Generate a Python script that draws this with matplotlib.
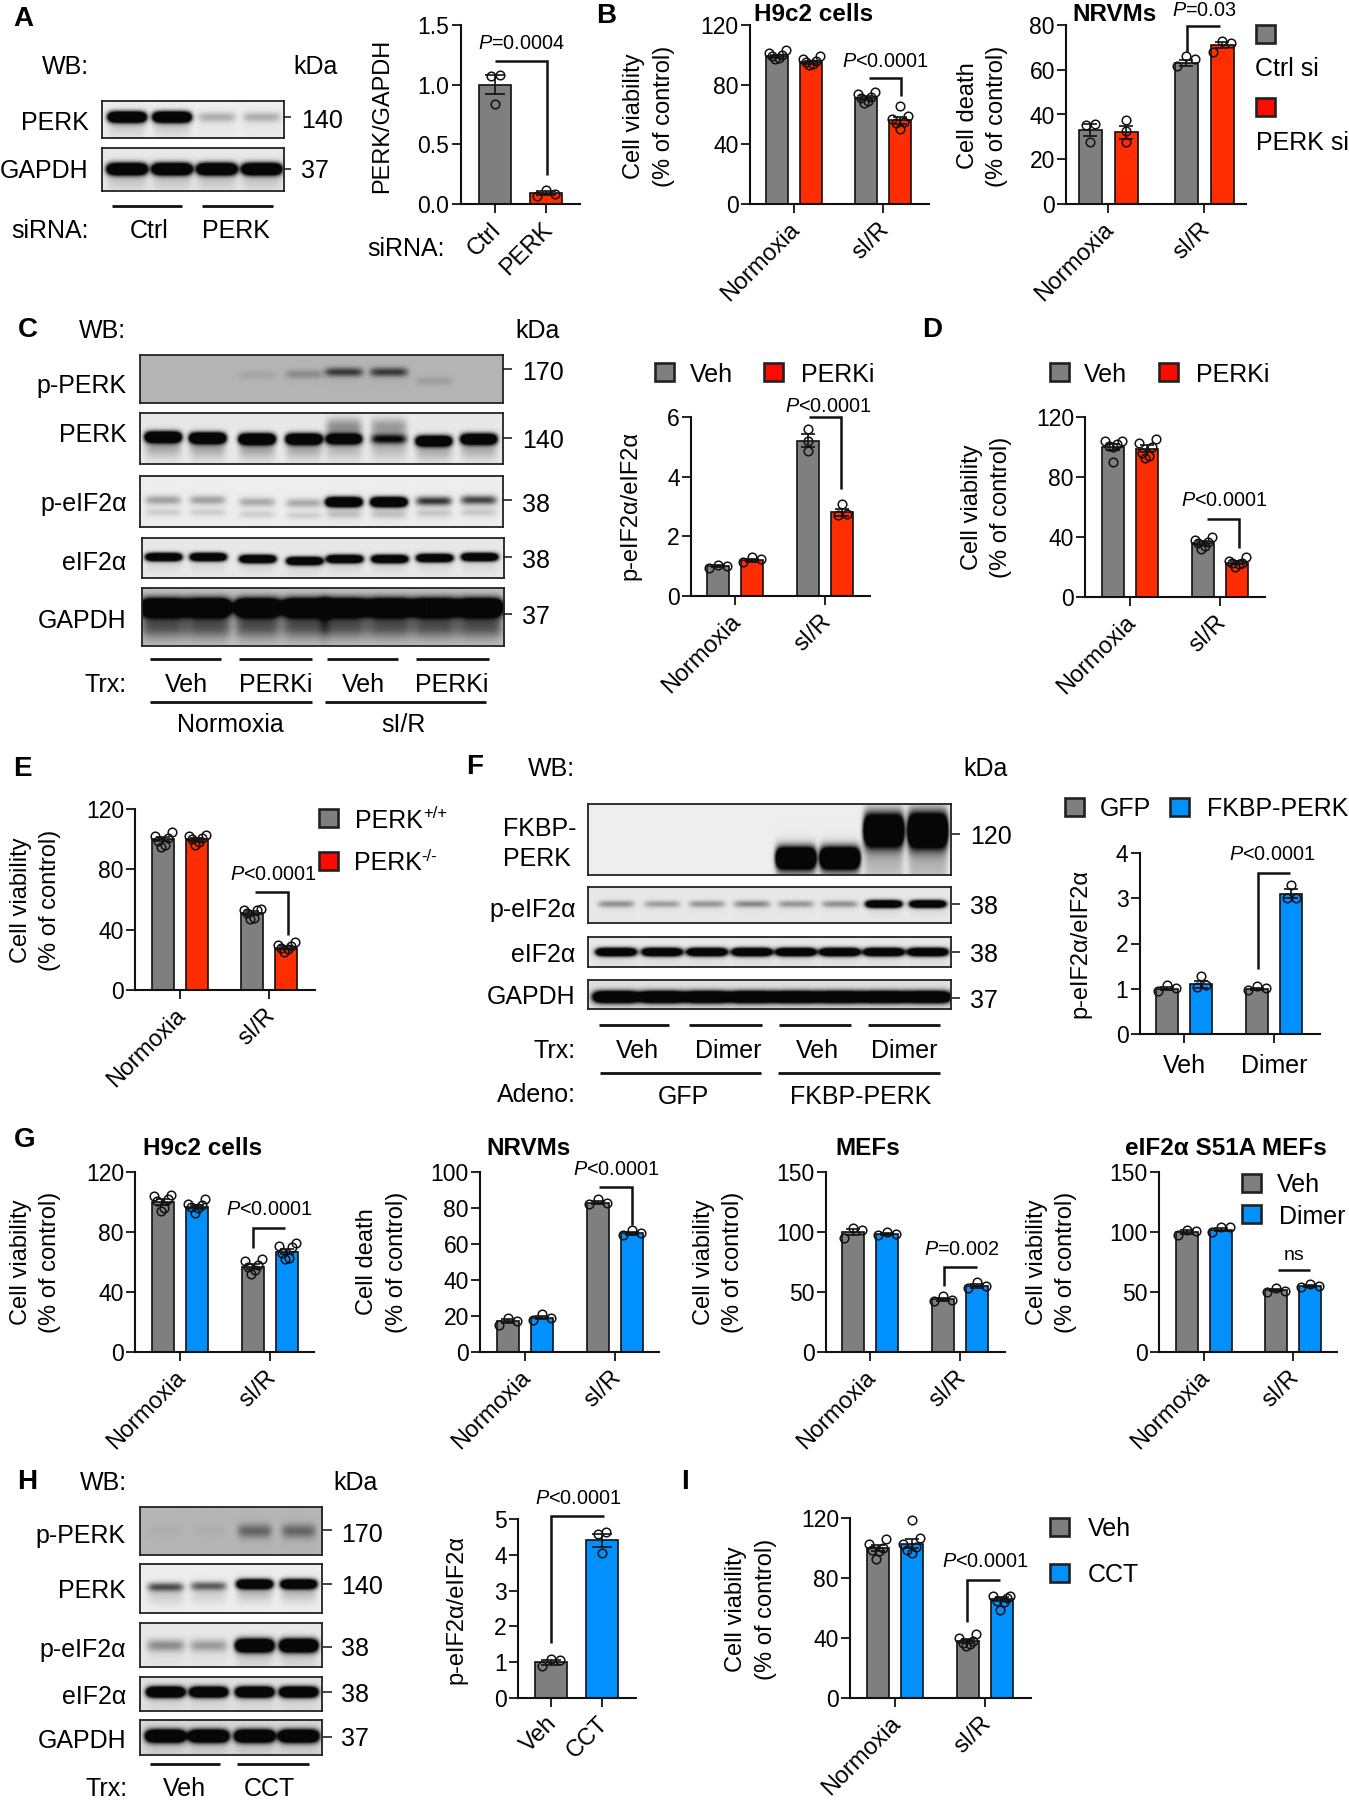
import numpy as np
import matplotlib
matplotlib.use("Agg")
import matplotlib.pyplot as plt
from matplotlib.patches import Rectangle
from matplotlib.transforms import ScaledTranslation

plt.rcParams.update({
    "font.family": ["Liberation Sans", "DejaVu Sans"],
    "mathtext.fontset": "custom",
    "mathtext.rm": "Liberation Sans",
    "mathtext.it": "Liberation Sans:italic",
    "mathtext.bf": "Liberation Sans:bold",
    "mathtext.default": "regular",
})

# ---------------- data ----------------
COND = ["Normoxia", "sI/R"]

a_labels = ["Ctrl", "PERK"]
a_means = [1.0, 0.09]
a_points = [[1.08, 1.07, 0.835], [0.07, 0.12, 0.08]]

b1_means = [99, 95, 71, 56]
b1_points = [[97, 98, 99, 100, 101, 103], [93, 94, 95, 96, 97, 99],
             [68, 69, 71, 72, 74, 75], [50, 54, 55, 57, 59, 66]]
b2_means = [33, 32, 63, 71]
b2_points = [[27.7, 35.7, 35.4], [27.6, 32.7, 37.5],
             [61.6, 64.7, 66], [68, 72, 72.7]]

c_means = [1.0, 1.2, 5.2, 2.8]
c_points = [[0.95, 1.02, 1.05], [1.15, 1.25, 1.3],
            [4.85, 5.2, 5.6], [2.7, 2.75, 3.1]]
d_means = [100, 99, 36, 23]
d_points = [[90, 100, 101, 102, 104, 104], [93, 94, 96, 100, 103, 105.5],
            [32, 34, 36, 37, 38, 40], [20, 22, 23, 23, 24, 27]]
e_means = [100, 100, 51, 28]
e_points = [[95, 96, 99, 101, 102, 105], [96, 98, 100, 101, 102, 103],
            [47, 48, 51, 53, 53, 54], [25, 27, 28, 29, 30, 32]]
f_labels = ["Veh", "Dimer"]
f_means = [1.0, 1.1, 1.0, 3.1]
f_points = [[0.95, 1.02, 1.08], [1.03, 1.08, 1.28],
            [0.98, 1.02, 1.05], [3.0, 3.0, 3.3]]
g1_means = [100, 97, 57, 67]
g1_points = [[94, 96, 101, 102, 104, 105], [93, 96, 97, 98, 99, 102],
             [52, 55, 57, 58, 61, 62], [62, 63, 66, 70, 71, 73]]
g2_means = [17, 19, 83, 66]
g2_points = [[15, 17, 19], [18, 19, 21], [82, 83, 85], [65, 66, 68]]
g3_means = [100, 98, 44, 55]
g3_points = [[94.7, 101.7, 103.6], [97.5, 98, 100.3],
             [42.5, 43.3, 46.7], [53, 55, 58]]
g4_means = [100, 102, 52, 55]
g4_points = [[97.5, 101, 102], [100, 104.4, 104.4], [50, 51, 53], [54, 55, 57]]
h_labels = ["Veh", "CCT"]
h_means = [1.0, 4.4]
h_points = [[0.88, 1.05, 1.09], [4.04, 4.57, 4.65]]
i_means = [100, 103, 38, 66]
i_points = [[93, 98, 99, 100, 103, 106], [97, 99, 101, 103, 107, 118.5],
            [35, 36, 37, 38, 40, 43], [59, 64, 65, 67, 68, 68]]

# western blot lane intensities (0 = no band, 1 = saturated)
a_blot = {"PERK": [1, 1, .2, .2], "GAPDH": [1, 1, 1, 1]}
c_blot = {"p-PERK": [0, 0, .07, .18, .55, .55, .1, 0],
          "PERK": [1, 1, 1, .95, .75, .7, .85, .9],
          "PERK_upper": [0, 0, 0, 0, .4, .35, 0, 0],
          "p-eIF2a": [.25, .25, .22, .22, 1, 1, .6, .55],
          "eIF2a": [.9, .9, .9, .9, .9, .9, .9, .9],
          "GAPDH": [1, 1, 1, 1, 1, 1, 1, 1]}
f_blot = {"FKBP": [0, 0, 0, 0, 1, 1, 1, 1],
          "p-eIF2a": [.3, .25, .28, .33, .28, .3, .9, .9],
          "eIF2a": [.95, .95, .95, .95, .95, .95, .95, .95],
          "GAPDH": [1, 1, 1, 1, 1, 1, 1, 1]}
h_blot = {"p-PERK": [.03, .03, .35, .35],
          "PERK": [.5, .45, .85, .85],
          "p-eIF2a": [.3, .25, 1, 1],
          "eIF2a": [1, .95, 1, 1],
          "GAPDH": [1, 1, 1, 1]}

GRAY, RED, BLUE, SW_RED = "#7f7f7f", "#ff2d00", "#0091ff", "#ff0a00"

# ---------------- helpers ----------------
W, H = 1349, 1800
fig = plt.figure(figsize=(W / 100, H / 100), dpi=100, facecolor="white")
ov = fig.add_axes([0, 0, 1, 1], zorder=20)
ov.set_xlim(0, W)
ov.set_ylim(H, 0)
ov.axis("off")
ov.patch.set_alpha(0)

LAB = 18
TICK = 16.5
YLAB = 17
XROT = 17


def T(x, y, s, ha="center", size=LAB, rotation=0, **kw):
    if rotation == 90:
        x += 3
    else:
        y += 2.5
    ov.text(x, y, s, ha=ha, va="center", fontsize=size, color="black", rotation=rotation, **kw)


def L(xs, ys, lw=1.5):
    ov.plot(xs, ys, color="#111111", lw=lw, solid_capstyle="butt",
            solid_joinstyle="miter", clip_on=False)


def ylab2(x1, x2, y, l1="Cell viability", l2="(% of control)"):
    T(x1, y, l1, rotation=90, size=YLAB)
    T(x2, y, l2, rotation=90, size=YLAB)


def P(x, y, s):
    T(x, y, r"$\mathit{P}$" + s, size=14.3)


def swatch(cx, cy, color):
    ov.add_patch(Rectangle((cx - 9.5, cy - 9), 19, 18, fc=color, ec="#222222", lw=1.9))


def title(x, y, s):
    T(x, y - 1, s, size=17.5, fontweight="bold")


def letter(x, y, s):
    ov.text(x, y + 2, s, ha="left", va="center", fontsize=20, fontweight="bold", color="black")


def swarm_offsets(vals, px_per_unit):
    """spread near-equal values sideways, in pixels"""
    v = np.sort(np.asarray(vals, float))
    out = np.zeros(len(v))
    start = 0
    for i in range(1, len(v) + 1):
        if i == len(v) or (v[i] - v[i - 1]) * px_per_unit > 9:
            k = i - start
            if k > 1:
                sp = 9.0 if k <= 3 else 17.0 / (k - 1)
                if k == 2:
                    pat = [-.5, .5]
                elif k == 3:
                    pat = [-1, 1, 0]
                elif k % 2:
                    pat = [0] + [s * j for j in range(1, k // 2 + 1) for s in (-1, 1)]
                else:
                    pat = [s * (j - .5) for j in range(1, k // 2 + 1) for s in (-1, 1)]
                out[start:i] = np.array(pat) * sp
            start = i
    return v, out


def chart(ax_x, right, ytop, y0, c0, c1, off, bw, ymax, yticks, means, points, colors,
          cats, yfmt="{:g}", rot=45):
    ax = fig.add_axes([ax_x / W, 1 - y0 / H, (right - ax_x) / W, (y0 - ytop) / H])
    ax.patch.set_alpha(0)
    span = c1 - c0
    ax.set_xlim((ax_x - c0) / span, (right - c0) / span)
    ax.set_ylim(0, ymax)
    n_per = len(means) // len(cats)
    if n_per == 2:
        xs = [g + s * off / span for g in range(len(cats)) for s in (-1, 1)]
    else:
        xs = list(range(len(cats)))
    ppu = (y0 - ytop) / ymax
    ax.bar(xs, means, width=bw / span, color=colors, edgecolor="#111111", linewidth=1.2, zorder=2)
    for x, m, pts in zip(xs, means, points):
        sem = np.std(pts, ddof=1) / np.sqrt(len(pts))
        ax.errorbar(x, m, yerr=sem, color="#111111", lw=1.2, capsize=bw * 0.3 * .72,
                    capthick=1.2, zorder=3, clip_on=False)
        v, o = swarm_offsets(pts, ppu)
        ax.plot(x + o / span, v, "o", ms=6.2, mfc="none", mec="#111111", mew=1.1,
                zorder=4, clip_on=False)
    for s in ("top", "right"):
        ax.spines[s].set_visible(False)
    for s in ("left", "bottom"):
        ax.spines[s].set_linewidth(1.5)
        ax.spines[s].set_color("#111111")
    ax.set_yticks(yticks)
    ax.set_yticklabels([yfmt.format(t) for t in yticks], fontsize=TICK)
    ax.set_xticks(range(len(cats)))
    if rot:
        ax.set_xticklabels(cats, fontsize=XROT, rotation=rot, ha="right", va="top",
                           rotation_mode="anchor")
    else:
        ax.set_xticklabels(cats, fontsize=LAB)
    ax.tick_params(axis="both", length=6.5, width=1.3, color="#111111", labelcolor="black")
    ax.tick_params(axis="y", pad=1.5)
    ax.tick_params(axis="x", pad=4 if rot else 8)
    if rot:
        shift = ScaledTranslation(-5 / 100, 0, fig.dpi_scale_trans)
        for lab in ax.get_xticklabels():
            lab.set_transform(lab.get_transform() + shift)
    return ax


def blot(x0, x1, y0, y1, lanes, cy, levels, bg=.88, hw=18, th=5, tail=.15, second=0.0,
         sharp=6, upper=None):
    """draw a synthetic immunoblot strip from lane intensities"""
    nx, ny = int(x1 - x0) * 2, int(y1 - y0) * 2
    X, Y = np.meshgrid(np.linspace(x0, x1, nx), np.linspace(y0, y1, ny))
    dark = np.zeros_like(X)
    cy = np.broadcast_to(cy, (len(lanes),))
    th = np.broadcast_to(th, (len(lanes),))
    upper = [0] * len(lanes) if upper is None else upper
    for c, yy, t, a, u in zip(lanes, cy, th, levels, upper):
        if a <= 0:
            continue
        sx = np.exp(-np.abs((X - c) / hw) ** sharp)
        core = np.exp(-((Y - yy) / t) ** 2)
        smear = np.exp(-((Y - yy - 1.8 * t) / (2.2 * t)) ** 2)
        sec = np.exp(-((Y - yy - 2.8 * t) / (0.8 * t)) ** 2)
        up = np.exp(-((Y - yy + 2.4 * t) / (1.8 * t)) ** 2)
        gain = 2.6 if a > .7 else 1.3
        dark += sx * (a * gain * core + a * tail * smear + second * sec + u * up)
    img = bg * (1 - np.clip(dark, 0, 1)) + .03
    ax = fig.add_axes([x0 / W, 1 - y1 / H, (x1 - x0) / W, (y1 - y0) / H])
    ax.imshow(img, cmap="gray", vmin=0, vmax=1, aspect="auto", interpolation="bilinear")
    ax.set_xticks([])
    ax.set_yticks([])
    for s in ax.spines.values():
        s.set_linewidth(1.3)
        s.set_color("#222222")


def mw(x0, x1, xt, y, ytxt, s):
    L([x0, x1], [y, y], 1.1)
    T(xt, ytxt, s, ha="left")


# ---------------- panel A ----------------
letter(13, 17, "A")
T(89, 65, "WB:", ha="right")
T(316, 65, "kDa")
lanes = [127, 172, 217, 262]
blot(102, 284, 101, 138, lanes, 117, a_blot["PERK"], bg=.9, hw=19, th=5)
blot(102, 284, 148, 191, lanes, 169, a_blot["GAPDH"], bg=.88, hw=20, th=5.5)
T(89, 121, "PERK", ha="right")
T(88, 169, "GAPDH", ha="right")
mw(284, 291, 301, 117, 118, "140")
mw(284, 291, 301, 169, 169, "37")
L([112, 182], [206, 206], 2)
L([202, 273], [206, 206], 2)
T(89, 228, "siRNA:", ha="right")
T(149, 228, "Ctrl")
T(236, 228, "PERK")
chart(460.5, 580, 25, 204, 495, 546, 0, 32.5, 1.5, [0, .5, 1, 1.5], a_means, a_points,
      [GRAY, RED], a_labels, yfmt="{:.1f}")
T(379, 116, "PERK/GAPDH", rotation=90, size=YLAB)
T(444.5, 246, "siRNA:", ha="right")
P(522, 41, "=0.0004")
L([495, 547, 547], [61, 61, 175], 1.8)

# ---------------- panel B ----------------
letter(596, 14, "B")
chart(749.5, 929, 25, 204, 794, 883, 17, 22, 120, [0, 40, 80, 120], b1_means, b1_points,
      [GRAY, RED] * 2, COND)
chart(1066, 1246, 25, 204, 1108, 1204, 18, 23, 80, [0, 20, 40, 60, 80], b2_means, b2_points,
      [GRAY, RED] * 2, COND)
title(814, 13, "H9c2 cells")
title(1115, 13, "NRVMs")
ylab2(631, 661, 116)
ylab2(964.5, 994, 116, "Cell death")
L([868.5, 901, 901], [78, 78, 96], 1.8)
P(885, 59, "<0.0001")
L([1187, 1187, 1220], [52, 26, 26], 1.8)
P(1204, 8, "=0.03")
swatch(1265.6, 34, GRAY)
T(1255, 67, "Ctrl si", ha="left")
swatch(1265.6, 107, SW_RED)
T(1256, 141, "PERK si", ha="left")

# ---------------- panel C ----------------
letter(18, 328, "C")
T(126.5, 328, "WB:", ha="right")
T(537.5, 328, "kDa")
lanes = [163, 207.5, 257, 304, 344, 389, 434, 479]
blot(140, 503, 355, 403, lanes, [373, 373, 375, 374, 372, 372, 381, 373], c_blot["p-PERK"],
     bg=.68, hw=19, th=4.5, tail=.05)
blot(140, 503, 413, 464, lanes, [437, 438, 439, 439, 439, 439, 441, 439], c_blot["PERK"],
     bg=.88, hw=18, th=5, tail=.3, upper=c_blot["PERK_upper"])
blot(140, 503, 476, 527, lanes, [500, 500, 502, 503, 502, 502, 501, 500], c_blot["p-eIF2a"],
     bg=.9, hw=18, th=4.5, tail=.1, second=.12)
blot(141.5, 504, 538, 578, lanes, [557, 557, 559, 561, 559, 559, 558, 557], c_blot["eIF2a"],
     bg=.88, hw=18, th=3.8, tail=.08)
blot(141.5, 504, 588, 646, lanes, 607, c_blot["GAPDH"], bg=.75, hw=23, th=8, tail=.6, second=.1)
for y, s in zip([384, 432, 502, 560, 618], ["p-PERK", "PERK", "p-eIF2α", "eIF2α", "GAPDH"]):
    T(126.5, y, s, ha="right")
for y, yt, s in zip([369, 438, 500, 557, 614], [371, 439, 502, 558, 615],
                    ["170", "140", "38", "38", "37"]):
    mw(503, 512, 522, y, yt, s)
for a, b in [(150, 220.5), (239, 311.5), (327, 398), (416, 488.5)]:
    L([a, b], [659, 659], 2)
for a, b in [(150, 311.5), (325, 486)]:
    L([a, b], [702, 702], 2)
T(126.5, 682, "Trx:", ha="right")
for x, s in zip([186, 275.5, 363, 452], ["Veh", "PERKi", "Veh", "PERKi"]):
    T(x, 682, s)
T(230, 723, "Normoxia")
T(403, 723, "sI/R")
chart(691, 870, 417, 596, 735, 825, 17, 22, 6, [0, 2, 4, 6], c_means, c_points,
      [GRAY, RED] * 2, COND)
T(627, 506, "p-eIF2α/eIF2α", rotation=90, size=YLAB)
swatch(664, 372, GRAY)
T(690, 372, "Veh", ha="left")
swatch(773, 372, SW_RED)
T(801, 372, "PERKi", ha="left")
L([809, 841, 841], [417, 417, 489], 1.8)
P(828, 404, "<0.0001")

# ---------------- panel D ----------------
letter(922, 328, "D")
chart(1085, 1265, 417, 597, 1130, 1220, 17, 22, 120, [0, 40, 80, 120], d_means, d_points,
      [GRAY, RED] * 2, COND)
ylab2(969, 997.5, 507)
swatch(1059, 372, GRAY)
T(1084, 372, "Veh", ha="left")
swatch(1168, 372, SW_RED)
T(1195.5, 372, "PERKi", ha="left")
L([1207, 1239, 1239], [519, 519, 548], 1.8)
P(1224, 498, "<0.0001")

# ---------------- panel E ----------------
letter(13, 767, "E")
chart(135, 315, 809, 990, 180, 269, 17, 22.4, 120, [0, 40, 80, 120], e_means, e_points,
      [GRAY, RED] * 2, COND)
ylab2(18, 47, 900)
swatch(328.6, 818, GRAY)
T(355, 818, "PERK", ha="left")
T(423, 811, "+/+", ha="left", size=12)
swatch(328.6, 861, SW_RED)
T(353.5, 861, "PERK", ha="left")
T(421, 854, "-/-", ha="left", size=12)
L([255, 288, 288], [892, 892, 935], 1.8)
P(273, 872, "<0.0001")

# ---------------- panel F ----------------
letter(466, 765, "F")
T(575.5, 766, "WB:", ha="right")
T(986, 766, "kDa")
lanes = [616, 662, 707, 752, 796, 840, 884, 928]
blot(588, 951, 804, 875, lanes, [0, 0, 0, 0, 858, 858, 830, 830], f_blot["FKBP"],
     bg=.9, hw=20, th=[5, 5, 5, 5, 10, 10, 15, 16], tail=.25, sharp=8)
blot(588, 951, 887, 923, lanes, 904, f_blot["p-eIF2a"], bg=.88, hw=18, th=3.5, tail=.05)
blot(588, 951, 937, 967, lanes, 952, f_blot["eIF2a"], bg=.88, hw=20, th=3.8, tail=.05)
blot(588, 951, 980, 1009, lanes, 997, f_blot["GAPDH"], bg=.85, hw=23, th=5.5, tail=.05)
T(503, 826, "FKBP-", ha="left")
T(503, 857, "PERK", ha="left")
T(575.5, 907, "p-eIF2α", ha="right")
T(575.5, 953, "eIF2α", ha="right")
T(575.5, 994, "GAPDH", ha="right")
for y, yt, s in zip([834, 904, 952, 998], [835, 905, 952, 998], ["120", "38", "38", "37"]):
    mw(952, 960, 970, y, yt, s)
for a, b in [(599, 669), (689, 762), (779, 851), (868, 940)]:
    L([a, b], [1025, 1025], 2)
for a, b in [(600, 761), (778, 940)]:
    L([a, b], [1073, 1073], 2)
T(576, 1048, "Trx:", ha="right")
for x, s in zip([637, 728, 817, 904], ["Veh", "Dimer", "Veh", "Dimer"]):
    T(x, 1048, s)
T(575.5, 1093, "Adeno:", ha="right")
T(683, 1094, "GFP")
T(861, 1094, "FKBP-PERK")
chart(1139.5, 1319.5, 853, 1034, 1184, 1274, 17, 22, 4, [0, 1, 2, 3, 4], f_means, f_points,
      [GRAY, BLUE] * 2, f_labels, rot=0)
T(1077.6, 944, "p-eIF2α/eIF2α", rotation=90, size=YLAB)
swatch(1074.5, 807, GRAY)
T(1100, 807, "GFP", ha="left")
swatch(1179, 807, BLUE)
T(1207, 807, "FKBP-PERK", ha="left")
L([1257.5, 1257.5, 1290], [969, 873, 873], 1.8)
P(1272, 852, "<0.0001")

# ---------------- panel G ----------------
letter(14, 1138, "G")
chart(135, 314, 1172, 1352, 179.5, 270, 17, 22, 120, [0, 40, 80, 120], g1_means, g1_points,
      [GRAY, BLUE] * 2, COND)
chart(480, 659, 1172, 1352, 525, 614.5, 17, 22, 100, [0, 20, 40, 60, 80, 100], g2_means, g2_points,
      [GRAY, BLUE] * 2, COND)
chart(826, 1005, 1172, 1352, 870, 960, 17, 22, 150, [0, 50, 100, 150], g3_means, g3_points,
      [GRAY, BLUE] * 2, COND)
chart(1159, 1337, 1172, 1352, 1203.5, 1293, 17, 22, 150, [0, 50, 100, 150], g4_means, g4_points,
      [GRAY, BLUE] * 2, COND)
title(202.5, 1147, "H9c2 cells")
title(528, 1147, "NRVMs")
title(868, 1147, "MEFs")
title(1226, 1147, "eIF2α S51A MEFs")
ylab2(18, 47, 1262)
ylab2(364, 394, 1262, "Cell death")
ylab2(701, 730, 1262)
ylab2(1034, 1063, 1262)
L([253, 253, 285], [1248, 1228, 1228], 1.8)
P(269, 1207, "<0.0001")
L([599, 632, 632], [1187, 1187, 1225], 1.8)
P(616, 1167, "<0.0001")
L([943.7, 943.7, 976.5], [1286, 1267, 1267], 1.8)
P(961.6, 1247, "=0.002")
L([1278, 1310], [1270, 1270], 1.8)
T(1294, 1253, "ns", size=14)
swatch(1251, 1183, GRAY)
T(1277, 1183, "Veh", ha="left")
swatch(1251, 1214, BLUE)
T(1279, 1214, "Dimer", ha="left")

# ---------------- panel H ----------------
letter(17, 1480, "H")
T(127, 1481, "WB:", ha="right")
T(355.6, 1481, "kDa")
lanes = [165, 208, 254, 298]
blot(139.6, 322, 1507, 1555, lanes, 1531, h_blot["p-PERK"], bg=.68, hw=17, th=7, tail=.05)
blot(139.6, 322, 1564, 1613, lanes, [1587, 1586, 1584, 1584], h_blot["PERK"], bg=.9, hw=18, th=4.5, tail=.25)
blot(139.6, 322, 1623, 1667, lanes, 1646, h_blot["p-eIF2a"], bg=.88, hw=19, th=6, tail=.12)
blot(139.6, 322, 1677, 1711, lanes, 1692, h_blot["eIF2a"], bg=.85, hw=19, th=5, tail=.06)
blot(139.6, 322, 1720, 1755, lanes, 1736, h_blot["GAPDH"], bg=.82, hw=20, th=6, tail=.08)
for y, s in zip([1533, 1588, 1647, 1694, 1739], ["p-PERK", "PERK", "p-eIF2α", "eIF2α", "GAPDH"]):
    T(126, y, s, ha="right")
for y, yt, s in zip([1530, 1584, 1647, 1692, 1737], [1532, 1584, 1647, 1692, 1737],
                    ["170", "140", "38", "38", "37"]):
    mw(323, 332, 341, y, yt, s)
L([150, 220], [1764, 1764], 2)
L([237, 309], [1764, 1764], 2)
T(128, 1786, "Trx:", ha="right")
T(184, 1786, "Veh")
T(269, 1786, "CCT")
chart(518, 636, 1519, 1698, 551, 602, 0, 32.5, 5, [0, 1, 2, 3, 4, 5], h_means, h_points,
      [GRAY, BLUE], h_labels)
T(453, 1609, "p-eIF2α/eIF2α", rotation=90, size=YLAB)
L([551, 551, 603.6], [1643, 1516, 1516], 1.8)
P(578, 1496, "<0.0001")

# ---------------- panel I ----------------
letter(681, 1480, "I")
chart(850, 1030.7, 1518, 1698, 894.6, 985, 17, 22, 120, [0, 40, 80, 120], i_means, i_points,
      [GRAY, BLUE] * 2, COND)
ylab2(733, 763, 1609)
swatch(1059, 1527, GRAY)
T(1088, 1527, "Veh", ha="left")
swatch(1059, 1573, BLUE)
T(1088, 1573, "CCT", ha="left")
L([967, 967, 1000], [1622, 1580, 1580], 1.8)
P(985, 1559, "<0.0001")

fig.savefig("out.png", dpi=100)
